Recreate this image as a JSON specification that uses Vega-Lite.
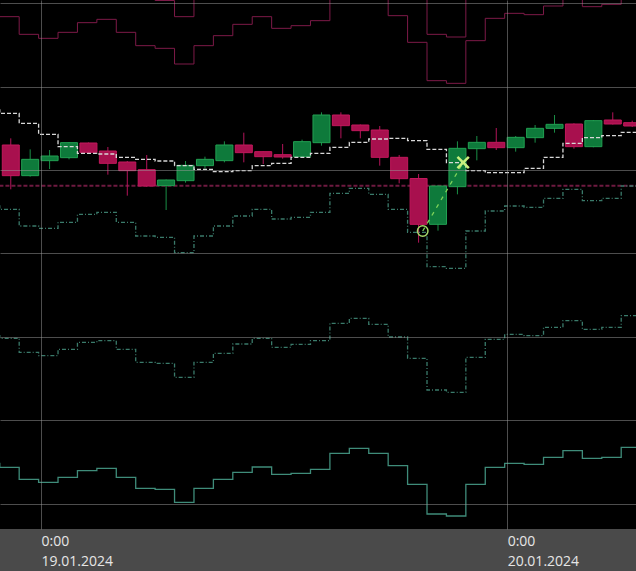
{
  "$schema": "https://vega.github.io/schema/vega-lite/v6.json",
  "width": 636,
  "height": 529,
  "autosize": {"type": "none"},
  "padding": {"left": 0, "top": 0, "right": 0, "bottom": 42},
  "background": "#4a4a4a",
  "config": {
    "view": {"fill": "#000000", "stroke": null},
    "axis": {"gridColor": "#9a9a9a", "gridOpacity": 0.5, "gridWidth": 1}
  },
  "datasets": {
    "candles": [
      {"time": "2024-01-18T22:00:00Z", "open": 143.02, "high": 143.82, "low": 137.70, "close": 139.34},
      {"time": "2024-01-18T23:00:00Z", "open": 139.34, "high": 142.50, "low": 139.22, "close": 141.30},
      {"time": "2024-01-19T00:00:00Z", "open": 141.14, "high": 142.42, "low": 140.14, "close": 141.70},
      {"time": "2024-01-19T01:00:00Z", "open": 141.50, "high": 143.38, "low": 141.30, "close": 143.30},
      {"time": "2024-01-19T02:00:00Z", "open": 143.26, "high": 143.32, "low": 142.06, "close": 142.14},
      {"time": "2024-01-19T03:00:00Z", "open": 142.30, "high": 142.78, "low": 139.46, "close": 140.82},
      {"time": "2024-01-19T04:00:00Z", "open": 140.98, "high": 141.10, "low": 136.94, "close": 139.94},
      {"time": "2024-01-19T05:00:00Z", "open": 140.06, "high": 141.82, "low": 138.02, "close": 138.10},
      {"time": "2024-01-19T06:00:00Z", "open": 138.14, "high": 138.88, "low": 135.22, "close": 138.82},
      {"time": "2024-01-19T07:00:00Z", "open": 138.74, "high": 141.10, "low": 138.50, "close": 140.58},
      {"time": "2024-01-19T08:00:00Z", "open": 140.54, "high": 141.62, "low": 140.18, "close": 141.30},
      {"time": "2024-01-19T09:00:00Z", "open": 141.14, "high": 143.46, "low": 140.94, "close": 143.02},
      {"time": "2024-01-19T10:00:00Z", "open": 143.02, "high": 144.50, "low": 140.94, "close": 142.10},
      {"time": "2024-01-19T11:00:00Z", "open": 142.22, "high": 142.24, "low": 140.74, "close": 141.62},
      {"time": "2024-01-19T12:00:00Z", "open": 141.86, "high": 143.14, "low": 141.38, "close": 141.58},
      {"time": "2024-01-19T13:00:00Z", "open": 141.62, "high": 143.66, "low": 141.58, "close": 143.42},
      {"time": "2024-01-19T14:00:00Z", "open": 143.30, "high": 146.94, "low": 142.94, "close": 146.62},
      {"time": "2024-01-19T15:00:00Z", "open": 146.62, "high": 146.94, "low": 143.82, "close": 145.34},
      {"time": "2024-01-19T16:00:00Z", "open": 145.42, "high": 145.48, "low": 143.82, "close": 144.74},
      {"time": "2024-01-19T17:00:00Z", "open": 144.82, "high": 145.30, "low": 140.54, "close": 141.54},
      {"time": "2024-01-19T18:00:00Z", "open": 141.54, "high": 141.82, "low": 138.42, "close": 138.98},
      {"time": "2024-01-19T19:00:00Z", "open": 139.00, "high": 139.54, "low": 131.30, "close": 133.50},
      {"time": "2024-01-19T20:00:00Z", "open": 133.50, "high": 138.16, "low": 132.74, "close": 138.10},
      {"time": "2024-01-19T21:00:00Z", "open": 138.02, "high": 143.46, "low": 137.10, "close": 142.62},
      {"time": "2024-01-19T22:00:00Z", "open": 142.58, "high": 144.10, "low": 141.18, "close": 143.34},
      {"time": "2024-01-19T23:00:00Z", "open": 143.34, "high": 145.06, "low": 142.42, "close": 142.70},
      {"time": "2024-01-20T00:00:00Z", "open": 142.70, "high": 144.10, "low": 142.22, "close": 143.94},
      {"time": "2024-01-20T01:00:00Z", "open": 143.90, "high": 145.42, "low": 143.30, "close": 145.02},
      {"time": "2024-01-20T02:00:00Z", "open": 145.02, "high": 146.62, "low": 144.50, "close": 145.50},
      {"time": "2024-01-20T03:00:00Z", "open": 145.54, "high": 145.62, "low": 142.58, "close": 142.82},
      {"time": "2024-01-20T04:00:00Z", "open": 142.82, "high": 146.02, "low": 142.74, "close": 145.94},
      {"time": "2024-01-20T05:00:00Z", "open": 146.02, "high": 146.94, "low": 145.48, "close": 145.54},
      {"time": "2024-01-20T06:00:00Z", "open": 145.70, "high": 145.94, "low": 145.18, "close": 145.30}
    ],
    "bands": [
      {"time": "2024-01-18T21:00:00Z", "ru": 164.06, "rl": 158.42, "w": 147.22, "g1": 135.70, "g2": 120.14, "g3": 104.82},
      {"time": "2024-01-18T22:00:00Z", "ru": 164.06, "rl": 158.42, "w": 146.82, "g1": 135.30, "g2": 119.82, "g3": 104.34},
      {"time": "2024-01-18T23:00:00Z", "ru": 161.94, "rl": 156.30, "w": 145.62, "g1": 133.30, "g2": 118.14, "g3": 102.90},
      {"time": "2024-01-19T00:00:00Z", "ru": 161.46, "rl": 155.82, "w": 144.30, "g1": 133.02, "g2": 117.74, "g3": 102.54},
      {"time": "2024-01-19T01:00:00Z", "ru": 162.18, "rl": 156.54, "w": 142.82, "g1": 133.74, "g2": 118.50, "g3": 103.14},
      {"time": "2024-01-19T02:00:00Z", "ru": 163.34, "rl": 157.70, "w": 142.02, "g1": 134.70, "g2": 119.34, "g3": 103.94},
      {"time": "2024-01-19T03:00:00Z", "ru": 163.74, "rl": 158.10, "w": 141.94, "g1": 134.94, "g2": 119.54, "g3": 104.22},
      {"time": "2024-01-19T04:00:00Z", "ru": 162.18, "rl": 156.54, "w": 141.54, "g1": 133.74, "g2": 118.50, "g3": 103.14},
      {"time": "2024-01-19T05:00:00Z", "ru": 160.58, "rl": 154.94, "w": 141.30, "g1": 132.10, "g2": 116.94, "g3": 101.82},
      {"time": "2024-01-19T06:00:00Z", "ru": 160.36, "rl": 154.62, "w": 141.10, "g1": 131.94, "g2": 116.82, "g3": 101.70},
      {"time": "2024-01-19T07:00:00Z", "ru": 158.42, "rl": 152.74, "w": 140.54, "g1": 130.10, "g2": 115.14, "g3": 100.14},
      {"time": "2024-01-19T08:00:00Z", "ru": 160.58, "rl": 154.94, "w": 140.10, "g1": 132.10, "g2": 116.94, "g3": 101.82},
      {"time": "2024-01-19T09:00:00Z", "ru": 161.78, "rl": 156.14, "w": 139.82, "g1": 133.30, "g2": 118.02, "g3": 102.90},
      {"time": "2024-01-19T10:00:00Z", "ru": 163.14, "rl": 157.50, "w": 139.94, "g1": 134.50, "g2": 119.14, "g3": 103.74},
      {"time": "2024-01-19T11:00:00Z", "ru": 164.06, "rl": 158.42, "w": 140.54, "g1": 135.30, "g2": 119.82, "g3": 104.38},
      {"time": "2024-01-19T12:00:00Z", "ru": 162.66, "rl": 157.02, "w": 140.82, "g1": 134.14, "g2": 118.74, "g3": 103.50},
      {"time": "2024-01-19T13:00:00Z", "ru": 162.98, "rl": 157.34, "w": 141.54, "g1": 134.34, "g2": 119.10, "g3": 103.62},
      {"time": "2024-01-19T14:00:00Z", "ru": 163.58, "rl": 157.94, "w": 142.02, "g1": 134.94, "g2": 119.54, "g3": 104.10},
      {"time": "2024-01-19T15:00:00Z", "ru": 166.42, "rl": 160.78, "w": 142.74, "g1": 137.22, "g2": 121.62, "g3": 106.02},
      {"time": "2024-01-19T16:00:00Z", "ru": 167.02, "rl": 161.38, "w": 143.34, "g1": 137.82, "g2": 122.22, "g3": 106.62},
      {"time": "2024-01-19T17:00:00Z", "ru": 166.30, "rl": 160.66, "w": 143.74, "g1": 137.10, "g2": 121.50, "g3": 106.02},
      {"time": "2024-01-19T18:00:00Z", "ru": 164.18, "rl": 158.54, "w": 143.82, "g1": 135.30, "g2": 119.98, "g3": 104.54},
      {"time": "2024-01-19T19:00:00Z", "ru": 160.98, "rl": 155.34, "w": 143.54, "g1": 132.54, "g2": 117.42, "g3": 102.30},
      {"time": "2024-01-19T20:00:00Z", "ru": 156.30, "rl": 150.74, "w": 142.50, "g1": 128.42, "g2": 113.62, "g3": 98.74},
      {"time": "2024-01-19T21:00:00Z", "ru": 155.98, "rl": 150.42, "w": 140.90, "g1": 128.22, "g2": 113.34, "g3": 98.50},
      {"time": "2024-01-19T22:00:00Z", "ru": 161.18, "rl": 155.54, "w": 139.94, "g1": 132.70, "g2": 117.54, "g3": 102.30},
      {"time": "2024-01-19T23:00:00Z", "ru": 163.86, "rl": 158.22, "w": 139.70, "g1": 135.10, "g2": 119.70, "g3": 104.34},
      {"time": "2024-01-20T00:00:00Z", "ru": 164.46, "rl": 158.82, "w": 139.70, "g1": 135.70, "g2": 120.30, "g3": 104.82},
      {"time": "2024-01-20T01:00:00Z", "ru": 164.30, "rl": 158.66, "w": 140.22, "g1": 135.54, "g2": 120.14, "g3": 104.70},
      {"time": "2024-01-20T02:00:00Z", "ru": 165.34, "rl": 159.70, "w": 141.54, "g1": 136.62, "g2": 121.14, "g3": 105.54},
      {"time": "2024-01-20T03:00:00Z", "ru": 166.54, "rl": 160.90, "w": 143.22, "g1": 137.70, "g2": 121.94, "g3": 106.34},
      {"time": "2024-01-20T04:00:00Z", "ru": 165.26, "rl": 159.62, "w": 143.90, "g1": 136.34, "g2": 120.90, "g3": 105.42},
      {"time": "2024-01-20T05:00:00Z", "ru": 165.54, "rl": 159.90, "w": 144.14, "g1": 136.62, "g2": 121.14, "g3": 105.54},
      {"time": "2024-01-20T06:00:00Z", "ru": 166.90, "rl": 161.26, "w": 144.54, "g1": 138.10, "g2": 122.54, "g3": 106.74},
      {"time": "2024-01-20T07:00:00Z", "ru": 166.90, "rl": 161.26, "w": 144.54, "g1": 138.10, "g2": 122.54, "g3": 106.74}
    ],
    "level": [
      {"time": "2024-01-18T20:00:00Z", "price": 138.14},
      {"time": "2024-01-20T08:00:00Z", "price": 138.14}
    ],
    "trade": [
      {"time": "2024-01-19T19:39:00Z", "price": 132.70, "kind": "entry"},
      {"time": "2024-01-19T21:44:00Z", "price": 140.92, "kind": "exit"}
    ]
  },
  "encoding": {
    "x": {
      "field": "time",
      "type": "temporal",
      "title": null,
      "scale": {
        "type": "utc",
        "domain": [
          {"year": 2024, "month": 1, "date": 18, "hours": 21, "minutes": 53, "utc": true},
          {"year": 2024, "month": 1, "date": 20, "hours": 6, "minutes": 38, "utc": true}
        ]
      },
      "axis": {
        "values": [
          {"year": 2024, "month": 1, "date": 19, "utc": true},
          {"year": 2024, "month": 1, "date": 20, "utc": true}
        ],
        "labelExpr": "[utcFormat(datum.value, '%-H:%M'), utcFormat(datum.value, '%d.%m.%Y')]",
        "grid": true,
        "ticks": false,
        "domain": false,
        "zindex": 1,
        "labelAlign": "left",
        "labelBaseline": "top",
        "labelFlush": false,
        "labelOverlap": false,
        "labelPadding": 5,
        "labelFontSize": 14,
        "labelLineHeight": 20,
        "labelColor": "#e6e6e6",
        "labelFont": "Open Sans"
      }
    }
  },
  "layer": [
    {
      "data": {"name": "level"},
      "mark": {"type": "line", "color": "#6e1a40", "strokeWidth": 2, "strokeDash": [4, 2], "clip": true},
      "encoding": {
        "y": {"field": "price", "type": "quantitative", "title": null, "scale": {"domain": [96.94, 160.42], "nice": false, "zero": false}, "axis": {"values": [100, 110, 120, 130, 140, 150, 160], "grid": true, "labels": false, "ticks": false, "domain": false, "zindex": 1}}
      }
    },
    {
      "data": {"name": "candles"},
      "mark": {"type": "rule", "xOffset": 8.5, "strokeWidth": 1, "clip": true},
      "encoding": {
        "y": {"field": "low", "type": "quantitative", "title": null, "scale": {"domain": [96.94, 160.42], "nice": false, "zero": false}, "axis": {"values": [100, 110, 120, 130, 140, 150, 160], "grid": true, "labels": false, "ticks": false, "domain": false, "zindex": 1}},
        "y2": {"field": "high"},
        "color": {"condition": {"test": "datum.close >= datum.open", "value": "#1a8f46"}, "value": "#b3145a"}
      }
    },
    {
      "data": {"name": "candles"},
      "mark": {"type": "bar", "x2Offset": 17, "strokeWidth": 1, "clip": true},
      "encoding": {
        "x2": {"field": "time"},
        "y": {"field": "open", "type": "quantitative", "title": null, "scale": {"domain": [96.94, 160.42], "nice": false, "zero": false}, "axis": {"values": [100, 110, 120, 130, 140, 150, 160], "grid": true, "labels": false, "ticks": false, "domain": false, "zindex": 1}},
        "y2": {"field": "close"},
        "fill": {"condition": {"test": "datum.close >= datum.open", "value": "#0e7a3b"}, "value": "#a8104e"},
        "stroke": {"condition": {"test": "datum.close >= datum.open", "value": "#22a052"}, "value": "#c2185c"}
      }
    },
    {
      "data": {"name": "bands"},
      "mark": {"type": "line", "interpolate": "step-after", "xOffset": -2.5, "color": "#7d1a48", "strokeWidth": 1, "clip": true},
      "encoding": {
        "y": {"field": "ru", "type": "quantitative", "title": null, "scale": {"domain": [96.94, 160.42], "nice": false, "zero": false}, "axis": {"values": [100, 110, 120, 130, 140, 150, 160], "grid": true, "labels": false, "ticks": false, "domain": false, "zindex": 1}}
      }
    },
    {
      "data": {"name": "bands"},
      "mark": {"type": "line", "interpolate": "step-after", "xOffset": -2.5, "color": "#7d1a48", "strokeWidth": 1, "clip": true},
      "encoding": {
        "y": {"field": "rl", "type": "quantitative", "title": null, "scale": {"domain": [96.94, 160.42], "nice": false, "zero": false}, "axis": {"values": [100, 110, 120, 130, 140, 150, 160], "grid": true, "labels": false, "ticks": false, "domain": false, "zindex": 1}}
      }
    },
    {
      "data": {"name": "bands"},
      "mark": {"type": "line", "interpolate": "step-after", "xOffset": -2.5, "color": "#d8d8d8", "strokeWidth": 1.3, "strokeDash": [4, 2], "clip": true},
      "encoding": {
        "y": {"field": "w", "type": "quantitative", "title": null, "scale": {"domain": [96.94, 160.42], "nice": false, "zero": false}, "axis": {"values": [100, 110, 120, 130, 140, 150, 160], "grid": true, "labels": false, "ticks": false, "domain": false, "zindex": 1}}
      }
    },
    {
      "data": {"name": "bands"},
      "mark": {"type": "line", "interpolate": "step-after", "xOffset": -2.5, "color": "#3a7a6a", "strokeWidth": 1.3, "strokeDash": [4, 2, 1, 2], "clip": true},
      "encoding": {
        "y": {"field": "g1", "type": "quantitative", "title": null, "scale": {"domain": [96.94, 160.42], "nice": false, "zero": false}, "axis": {"values": [100, 110, 120, 130, 140, 150, 160], "grid": true, "labels": false, "ticks": false, "domain": false, "zindex": 1}}
      }
    },
    {
      "data": {"name": "bands"},
      "mark": {"type": "line", "interpolate": "step-after", "xOffset": -2.5, "color": "#3a7a6a", "strokeWidth": 1.3, "strokeDash": [4, 2, 1, 2], "clip": true},
      "encoding": {
        "y": {"field": "g2", "type": "quantitative", "title": null, "scale": {"domain": [96.94, 160.42], "nice": false, "zero": false}, "axis": {"values": [100, 110, 120, 130, 140, 150, 160], "grid": true, "labels": false, "ticks": false, "domain": false, "zindex": 1}}
      }
    },
    {
      "data": {"name": "bands"},
      "mark": {"type": "line", "interpolate": "step-after", "xOffset": -2.5, "color": "#3f8c7a", "strokeWidth": 1.3, "clip": true},
      "encoding": {
        "y": {"field": "g3", "type": "quantitative", "title": null, "scale": {"domain": [96.94, 160.42], "nice": false, "zero": false}, "axis": {"values": [100, 110, 120, 130, 140, 150, 160], "grid": true, "labels": false, "ticks": false, "domain": false, "zindex": 1}}
      }
    },
    {
      "data": {"name": "trade"},
      "mark": {"type": "line", "color": "#7fd35a", "strokeWidth": 1.3, "strokeDash": [4, 5], "clip": true},
      "encoding": {
        "y": {"field": "price", "type": "quantitative", "title": null, "scale": {"domain": [96.94, 160.42], "nice": false, "zero": false}, "axis": {"values": [100, 110, 120, 130, 140, 150, 160], "grid": true, "labels": false, "ticks": false, "domain": false, "zindex": 1}}
      }
    },
    {
      "data": {"name": "trade"},
      "transform": [{"filter": "datum.kind == 'entry'"}],
      "mark": {"type": "point", "shape": "circle", "filled": false, "size": 110, "stroke": "#a6d86a", "strokeWidth": 1.5, "opacity": 1},
      "encoding": {
        "y": {"field": "price", "type": "quantitative", "title": null, "scale": {"domain": [96.94, 160.42], "nice": false, "zero": false}, "axis": {"values": [100, 110, 120, 130, 140, 150, 160], "grid": true, "labels": false, "ticks": false, "domain": false, "zindex": 1}}
      }
    },
    {
      "data": {"name": "trade"},
      "transform": [{"filter": "datum.kind == 'exit'"}],
      "mark": {"type": "point", "shape": "M-1,-1L1,1M-1,1L1,-1", "filled": false, "size": 130, "stroke": "#c8f07e", "strokeWidth": 2.5, "opacity": 1},
      "encoding": {
        "y": {"field": "price", "type": "quantitative", "title": null, "scale": {"domain": [96.94, 160.42], "nice": false, "zero": false}, "axis": {"values": [100, 110, 120, 130, 140, 150, 160], "grid": true, "labels": false, "ticks": false, "domain": false, "zindex": 1}}
      }
    }
  ]
}
